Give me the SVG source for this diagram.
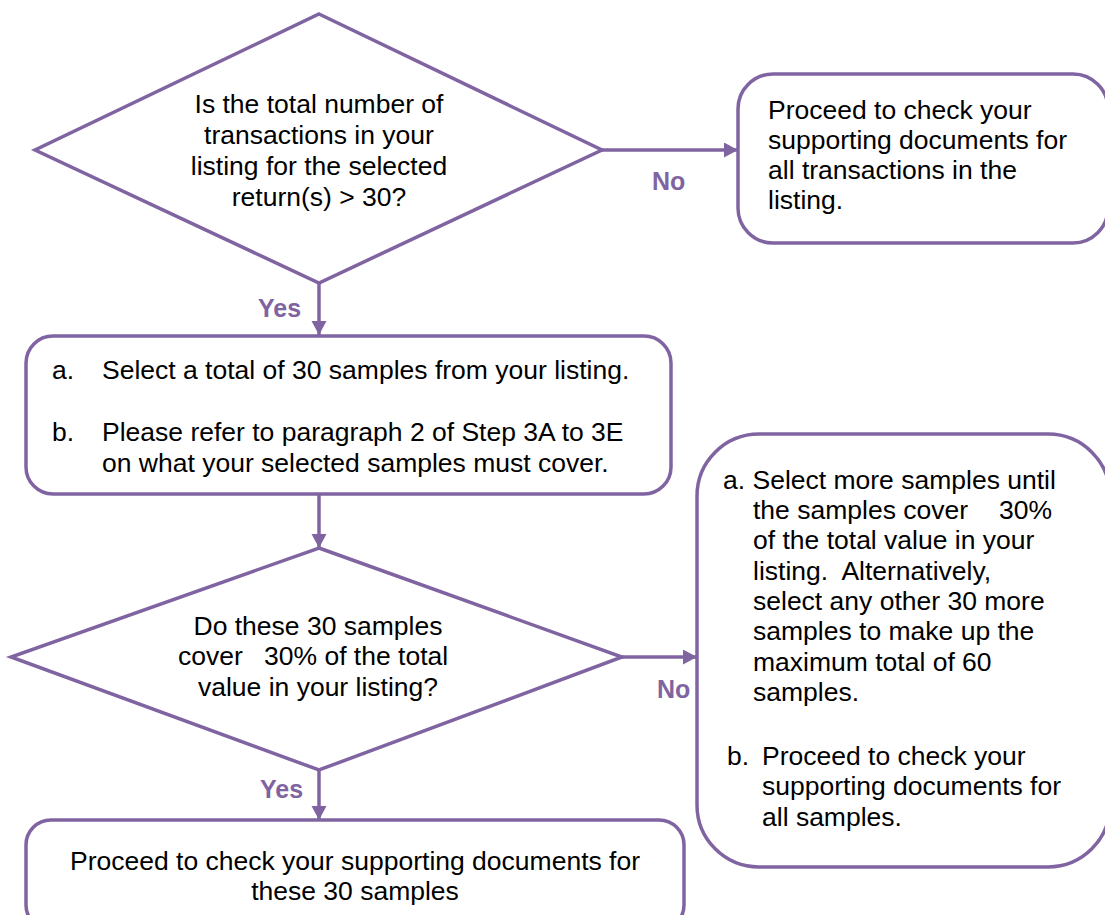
<svg xmlns="http://www.w3.org/2000/svg" width="1105" height="915" viewBox="0 0 1105 915">
<defs>
<style>
.shape{fill:#FFFFFF;stroke:#8064A2;stroke-width:3.5;stroke-linejoin:miter}
.conn{fill:none;stroke:#8064A2;stroke-width:3.5}
.t{font-family:"Liberation Sans",Arial,sans-serif;font-size:26.5px;fill:#000000}
.c{text-anchor:middle}
.lbl{font-family:"Liberation Sans",Arial,sans-serif;font-size:25px;font-weight:bold;fill:#8064A2}
</style>
<marker id="ah" markerUnits="userSpaceOnUse" markerWidth="16" markerHeight="16" refX="14" refY="7.5" orient="auto">
<path d="M0,0 L14,7.5 L0,15 Z" fill="#8064A2"/>
</marker>
</defs>
<rect width="1105" height="915" fill="#FFFFFF"/>

<g id="connectors">
<line class="conn" x1="602" y1="150" x2="738" y2="150" marker-end="url(#ah)"/>
<line class="conn" x1="319" y1="283" x2="319" y2="335" marker-end="url(#ah)"/>
<line class="conn" x1="319" y1="494" x2="319" y2="548" marker-end="url(#ah)"/>
<line class="conn" x1="622" y1="657" x2="697" y2="657" marker-end="url(#ah)"/>
<line class="conn" x1="319" y1="770" x2="319" y2="820" marker-end="url(#ah)"/>
<text class="lbl" x="652" y="190">No</text>
<text class="lbl" x="258" y="317">Yes</text>
<text class="lbl" x="657" y="698">No</text>
<text class="lbl" x="260" y="798">Yes</text>
</g>

<g id="decision1">
<polygon class="shape" points="319,14 602,150 319,283 35,150"/>
<text class="t c" x="319" y="113">Is the total number of</text>
<text class="t c" x="319" y="144">transactions in your</text>
<text class="t c" x="319" y="175">listing for the selected</text>
<text class="t c" x="319" y="206">return(s) &gt; 30?</text>
</g>

<g id="box-all-transactions">
<rect class="shape" x="738" y="74" width="370" height="169" rx="35" ry="35"/>
<text class="t" x="768" y="119">Proceed to check your</text>
<text class="t" x="768" y="149">supporting documents for</text>
<text class="t" x="768" y="179">all transactions in the</text>
<text class="t" x="768" y="209">listing.</text>
</g>

<g id="box-select-30">
<rect class="shape" x="26" y="336" width="645" height="158" rx="27" ry="27"/>
<text class="t" x="52" y="379">a.</text>
<text class="t" x="102" y="379">Select a total of 30 samples from your listing.</text>
<text class="t" x="52" y="441">b.</text>
<text class="t" x="102" y="441">Please refer to paragraph 2 of Step 3A to 3E</text>
<text class="t" x="102" y="472">on what your selected samples must cover.</text>
</g>

<g id="decision2">
<polygon class="shape" points="319,548 622,657 319,770 11,657"/>
<text class="t c" x="318" y="635">Do these 30 samples</text>
<text class="t" x="178" y="665" xml:space="preserve"><tspan>cover    </tspan><tspan x="264">30% of the total</tspan></text>
<text class="t c" x="318" y="696">value in your listing?</text>
</g>

<g id="box-more-samples">
<rect class="shape" x="697" y="434" width="413" height="433" rx="62" ry="62"/>
<text class="t" x="723" y="489">a. Select more samples until</text>
<text class="t" x="753" y="519" xml:space="preserve"><tspan>the samples cover    </tspan><tspan x="999">30%</tspan></text>
<text class="t" x="753" y="549">of the total value in your</text>
<text class="t" x="753" y="580" xml:space="preserve">listing.  Alternatively,</text>
<text class="t" x="753" y="610">select any other 30 more</text>
<text class="t" x="753" y="640">samples to make up the</text>
<text class="t" x="753" y="671">maximum total of 60</text>
<text class="t" x="753" y="701">samples.</text>
<text class="t" x="727" y="765">b.</text>
<text class="t" x="762" y="765">Proceed to check your</text>
<text class="t" x="762" y="795">supporting documents for</text>
<text class="t" x="762" y="826">all samples.</text>
</g>

<g id="box-check-30">
<rect class="shape" x="26" y="820" width="658" height="110" rx="25" ry="25"/>
<text class="t c" x="355" y="870">Proceed to check your supporting documents for</text>
<text class="t c" x="355" y="900">these 30 samples</text>
</g>
</svg>
